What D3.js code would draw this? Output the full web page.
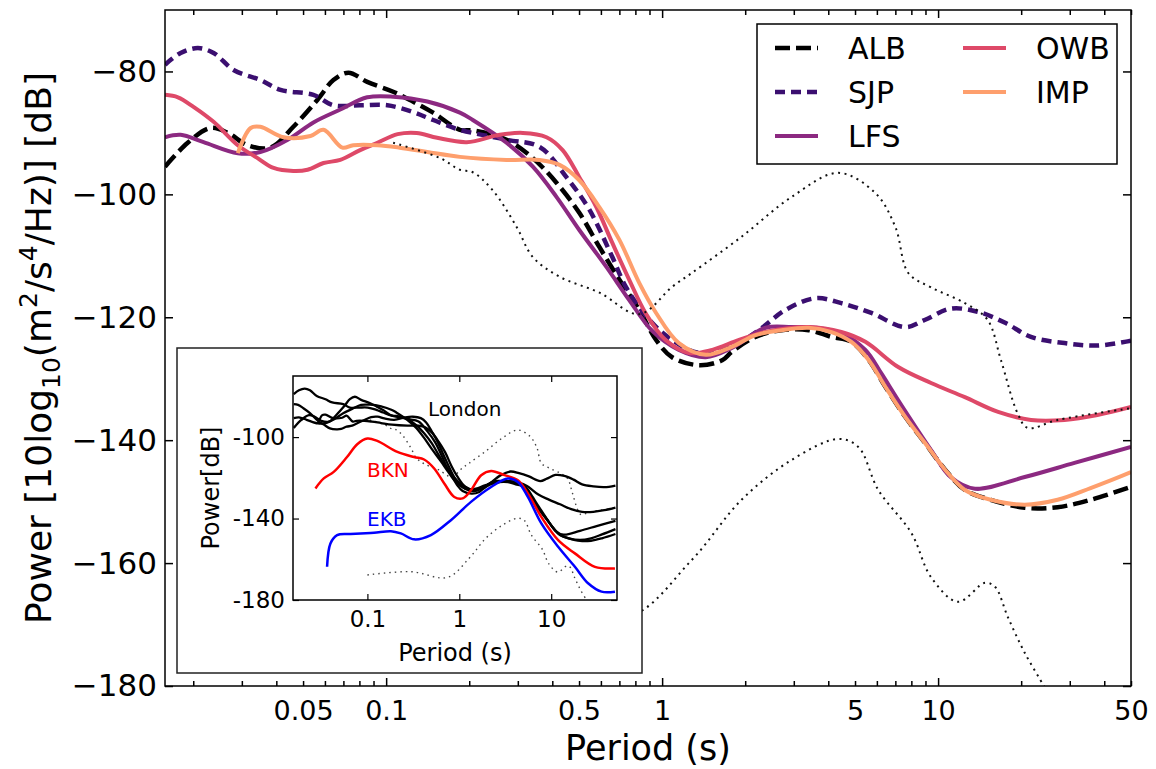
<!DOCTYPE html>
<html>
<head>
<meta charset="utf-8">
<script src="https://cdnjs.cloudflare.com/ajax/libs/d3/7.8.5/d3.min.js"></script>
<style>
    body { margin: 0; background: #fff; }
    svg text { font-family: "DejaVu Sans", sans-serif; }
</style>
</head>
<body>
<div id="chart"></div>
<script>
// PSD curves per station, [period (s), power (dB)]
const albData = [[0.0158,-95.5],[0.0191,-91.6],[0.0231,-89.2],[0.0267,-90.0],[0.0315,-92.0],[0.0381,-92.4],[0.0461,-89.0],[0.0564,-84.6],[0.0644,-81.4],[0.073,-80.2],[0.0854,-81.7],[0.106,-83.3],[0.125,-84.9],[0.148,-86.7],[0.185,-89.5],[0.206,-89.6],[0.273,-91.1],[0.34,-94.1],[0.414,-98.1],[0.501,-103.0],[0.593,-108.6],[0.70,-113.9],[0.826,-118.8],[0.951,-123.7],[1.087,-126.5],[1.36,-127.8],[1.65,-127.0],[1.79,-125.6],[2.18,-123.2],[2.71,-122.1],[3.40,-122.1],[4.11,-123.2],[4.85,-124.0],[5.59,-126.9],[6.44,-131.3],[7.6,-136.2],[8.98,-140.5],[10.6,-144.8],[12.5,-148.1],[15.5,-149.7],[20.6,-151.0],[27.1,-150.9],[35.7,-149.7],[50,-147.6]];
const sjpData = [[0.0158,-78.9],[0.018,-77.0],[0.0208,-76.2],[0.0237,-77.0],[0.0281,-79.8],[0.035,-81.4],[0.0414,-83.0],[0.0545,-83.8],[0.0644,-85.5],[0.0805,-85.5],[0.101,-85.5],[0.125,-86.6],[0.148,-87.9],[0.185,-89.5],[0.273,-91.1],[0.36,-92.3],[0.45,-97.2],[0.545,-102.5],[0.66,-110.2],[0.74,-115.1],[0.898,-120.4],[1.087,-123.7],[1.36,-125.8],[1.79,-124.8],[2.24,-122.1],[2.80,-118.8],[3.6,-116.9],[4.46,-117.7],[5.73,-119.3],[7.6,-121.6],[8.98,-120.4],[11.1,-118.6],[13.9,-119.1],[17.5,-120.9],[21.7,-123.2],[28.7,-124.2],[37.8,-124.6],[50,-123.8]];
const lfsData = [[0.0158,-90.7],[0.018,-90.3],[0.0218,-91.5],[0.029,-93.3],[0.035,-93.1],[0.044,-91.1],[0.0545,-88.3],[0.0682,-86.2],[0.0854,-84.2],[0.106,-84.1],[0.141,-84.9],[0.185,-86.7],[0.206,-87.9],[0.273,-91.6],[0.34,-95.5],[0.414,-100.4],[0.501,-105.8],[0.628,-111.8],[0.76,-117.2],[0.92,-122.2],[1.15,-125.3],[1.44,-126.5],[1.79,-125.0],[2.37,-121.7],[2.95,-121.6],[3.6,-121.7],[4.46,-122.6],[5.45,-125.3],[6.22,-129.1],[7.17,-133.5],[9.43,-141.6],[11.1,-146.0],[13.6,-147.9],[20.6,-146.0],[31.2,-143.7],[50,-141.1]];
const owbData = [[0.0158,-83.8],[0.0176,-84.2],[0.0201,-85.8],[0.0237,-88.2],[0.029,-92.0],[0.0342,-94.1],[0.0391,-95.7],[0.0461,-96.2],[0.0519,-96.0],[0.0593,-94.9],[0.0682,-94.4],[0.0805,-92.8],[0.0929,-91.6],[0.110,-90.2],[0.129,-90.0],[0.153,-90.8],[0.196,-91.5],[0.258,-90.3],[0.313,-90.0],[0.381,-90.7],[0.436,-92.8],[0.501,-97.2],[0.578,-102.1],[0.66,-107.9],[0.76,-113.9],[0.876,-119.5],[1.03,-123.7],[1.25,-125.8],[1.52,-125.3],[1.90,-123.7],[2.37,-122.4],[3.40,-121.6],[4.46,-122.4],[5.45,-124.0],[7.17,-128.1],[9.43,-130.7],[12.5,-133.0],[16.5,-135.4],[21.7,-136.7],[28.7,-136.7],[37.8,-135.9],[50,-134.6]];
const impData = [[0.029,-93.3],[0.0323,-89.2],[0.035,-89.0],[0.0425,-90.7],[0.0532,-90.5],[0.0593,-89.5],[0.0694,-92.4],[0.076,-92.0],[0.0929,-92.0],[0.112,-92.4],[0.141,-93.1],[0.185,-93.9],[0.273,-94.4],[0.36,-94.4],[0.425,-95.2],[0.501,-97.7],[0.593,-102.1],[0.70,-107.4],[0.826,-114.4],[0.951,-119.3],[1.15,-124.2],[1.44,-126.1],[1.79,-124.8],[2.18,-122.9],[2.71,-122.1],[3.40,-121.7],[4.11,-122.4],[4.85,-124.0],[5.59,-126.9],[6.44,-131.3],[7.6,-136.2],[8.98,-140.5],[10.6,-144.8],[12.5,-148.1],[15.5,-149.7],[20.6,-150.5],[27.1,-149.7],[35.7,-147.8],[50,-145.2]];

// noise model bounds (dotted)
const highNoiseData = [[0.106,-91.6],[0.157,-94.1],[0.185,-96.0],[0.206,-96.4],[0.243,-99.3],[0.297,-105.3],[0.34,-110.2],[0.425,-113.4],[0.593,-116.0],[0.826,-119.5],[1.09,-115.0],[1.28,-112.8],[1.94,-106.9],[2.95,-100.4],[4.35,-96.5],[5.93,-99.8],[7.0,-105.3],[7.8,-112.8],[9.4,-115.1],[12.5,-117.7],[15.1,-120.4],[16.9,-127.0],[19.4,-135.6],[21.1,-138.0],[27.1,-136.7],[50,-134.8]];
const lowNoiseData = [[0.1,-167.7],[0.30,-166.1],[0.745,-168.9],[1.28,-159.5],[1.94,-149.7],[2.95,-143.2],[4.35,-139.8],[5.14,-141.1],[6.07,-148.1],[8.0,-155.1],[9.43,-162.3],[11.8,-166.3],[14.8,-163.2],[16.1,-163.9],[17.9,-168.8],[20.6,-174.6],[24.3,-180.2],[25.5,-182.0]];

// inset comparison stations
const bknData = [[0.0272,-125.2],[0.0335,-120.3],[0.043,-117.1],[0.060,-109.8],[0.0775,-103.5],[0.1,-100.7],[0.128,-101.9],[0.212,-107.3],[0.322,-109.8],[0.414,-111.0],[0.533,-115.4],[0.686,-122.8],[0.882,-129.4],[1.087,-130.1],[1.34,-126.1],[1.73,-118.7],[2.22,-116.6],[3.1,-118.7],[4.34,-121.2],[5.57,-127.7],[7.81,-139.2],[11.9,-150.6],[18.1,-157.1],[29.9,-163.7],[49.4,-164.5]];
const ekbData = [[0.0364,-163.7],[0.0396,-152.2],[0.0468,-148.1],[0.0655,-147.6],[0.0843,-147.3],[0.118,-147.0],[0.18,-146.2],[0.231,-147.3],[0.322,-150.2],[0.491,-148.1],[0.81,-140.8],[1.34,-131.8],[2.22,-124.5],[3.37,-120.3],[4.34,-122.0],[5.57,-129.4],[7.81,-142.4],[11.9,-153.9],[18.1,-163.7],[25.2,-171.8],[35.3,-175.9],[49.4,-175.9]];

const stationNames = ["ALB", "SJP", "LFS", "OWB", "IMP"];
const mainXLabels = [0.05, 0.1, 0.5, 1, 5, 10, 50];
const mainYTicks = [-180, -160, -140, -120, -100, -80];
const insetXTicks = [0.1, 1, 10];
const insetYTicks = [-180, -140, -100];

class PsdVis {

    constructor(_parentElement) {
        this.parentElement = _parentElement;
        this.initVis();
    }

    initVis() {
        let vis = this;

        vis.width = 1156;
        vis.height = 769;
        vis.plot = {left: 165, top: 10, right: 1131, bottom: 686};

        vis.svg = d3.select("#" + vis.parentElement).append("svg")
            .attr("width", vis.width)
            .attr("height", vis.height);

        vis.xScale = d3.scaleLog().domain([0.0158, 50]).range([vis.plot.left, vis.plot.right]);
        vis.yScale = d3.scaleLinear().domain([-180, -70]).range([vis.plot.bottom, vis.plot.top]);

        vis.styles = [
            {color: "#000000", dash: "15,6", width: 4.5},
            {color: "#3b0f70", dash: "10,6", width: 4.5},
            {color: "#8c2981", dash: null, width: 4},
            {color: "#de4968", dash: null, width: 4},
            {color: "#fe9f6d", dash: null, width: 4}
        ];
        vis.stations = [albData, sjpData, lfsData, owbData, impData].map((d, i) => ({
            name: stationNames[i],
            values: d,
            ...vis.styles[i]
        }));

        vis.svg.append("clipPath").attr("id", "main-clip")
            .append("rect")
            .attr("x", vis.plot.left).attr("y", vis.plot.top)
            .attr("width", vis.plot.right - vis.plot.left)
            .attr("height", vis.plot.bottom - vis.plot.top);

        vis.updateVis();
    }

    updateVis() {
        let vis = this;
        let p = vis.plot;

        let line = d3.line()
            .x(d => vis.xScale(d[0]))
            .y(d => vis.yScale(d[1]))
            .curve(d3.curveCatmullRom.alpha(0.5));

        let curves = vis.svg.append("g").attr("clip-path", "url(#main-clip)");

        vis.stations.forEach(s => {
            curves.append("path")
                .datum(s.values)
                .attr("d", line)
                .attr("fill", "none")
                .attr("stroke", s.color)
                .attr("stroke-width", s.width)
                .attr("stroke-dasharray", s.dash);
        });

        // noise models
        [highNoiseData, lowNoiseData].forEach(d => {
            curves.append("path")
                .datum(d)
                .attr("d", line)
                .attr("fill", "none")
                .attr("stroke", "#111")
                .attr("stroke-width", 2)
                .attr("stroke-dasharray", "2,4.5");
        });

        // log ticks: decades and their multiples
        let xTicks = [];
        for (let e = -2; e <= 1; e++) {
            for (let m = 1; m <= 9; m++) {
                let v = +(m * Math.pow(10, e)).toPrecision(6);
                if (v >= 0.0158 && v <= 50) xTicks.push(v);
            }
        }
        let isMajor = d => Math.abs(Math.log10(d) - Math.round(Math.log10(d))) < 1e-6;
        let isLabelled = d => mainXLabels.some(l => Math.abs(l - d) < 1e-9);

        let xAxis = vis.svg.append("g")
            .attr("transform", "translate(0," + p.bottom + ")")
            .call(d3.axisBottom(vis.xScale).tickValues(xTicks).tickSize(-5).tickPadding(15)
                .tickFormat(d => isLabelled(d) ? d3.format("~g")(d) : ""));
        xAxis.selectAll(".tick line").attr("y2", d => isMajor(d) ? -8 : -5);

        let xTop = vis.svg.append("g")
            .attr("transform", "translate(0," + p.top + ")")
            .call(d3.axisTop(vis.xScale).tickValues(xTicks).tickSize(-5).tickFormat(""));
        xTop.selectAll(".tick line").attr("y2", d => isMajor(d) ? 8 : 5);

        let yAxis = vis.svg.append("g")
            .attr("transform", "translate(" + p.left + ",0)")
            .call(d3.axisLeft(vis.yScale).tickValues(mainYTicks).tickSize(-8).tickPadding(8)
                .tickFormat(d3.format("d")));

        let yRight = vis.svg.append("g")
            .attr("transform", "translate(" + p.right + ",0)")
            .call(d3.axisRight(vis.yScale).tickValues(mainYTicks).tickSize(-8).tickFormat(""));

        [xAxis, xTop, yAxis, yRight].forEach(g => {
            g.select(".domain").remove();
            g.attr("font-family", null).attr("font-size", 31);
            g.selectAll(".tick line").attr("stroke-width", 1.5);
        });
        xAxis.attr("font-size", 27);

        vis.svg.append("rect")
            .attr("x", p.left).attr("y", p.top)
            .attr("width", p.right - p.left).attr("height", p.bottom - p.top)
            .attr("fill", "none").attr("stroke", "#000").attr("stroke-width", 1.5);

        // axis titles
        vis.svg.append("text")
            .attr("x", (p.left + p.right) / 2)
            .attr("y", 760)
            .attr("text-anchor", "middle")
            .attr("font-size", 35)
            .text("Period (s)");

        let yTitle = vis.svg.append("text")
            .attr("transform", "translate(51," + (p.top + p.bottom) / 2 + ") rotate(-90)")
            .attr("text-anchor", "middle")
            .attr("font-size", 36);
        yTitle.append("tspan").text("Power [10log");
        yTitle.append("tspan").attr("font-size", 25).attr("dy", 9).text("10");
        yTitle.append("tspan").attr("dy", -9).text("(m");
        yTitle.append("tspan").attr("font-size", 25).attr("dy", -14).text("2");
        yTitle.append("tspan").attr("dy", 14).text("/s");
        yTitle.append("tspan").attr("font-size", 25).attr("dy", -14).text("4");
        yTitle.append("tspan").attr("dy", 14).text("/Hz)] [dB]");

        vis.drawLegend();
        vis.drawInset();
    }

    drawLegend() {
        let vis = this;
        let box = {x: 757, y: 24, w: 360, h: 140};

        let legend = vis.svg.append("g");
        legend.append("rect")
            .attr("x", box.x).attr("y", box.y)
            .attr("width", box.w).attr("height", box.h)
            .attr("fill", "#fff").attr("stroke", "#000").attr("stroke-width", 1.5);

        vis.stations.forEach((s, i) => {
            let col = Math.floor(i / 3);
            let row = i % 3;
            let x0 = box.x + 18 + col * 188;
            let y0 = box.y + 24 + row * 44;
            legend.append("line")
                .attr("x1", x0).attr("x2", x0 + 43)
                .attr("y1", y0).attr("y2", y0)
                .attr("stroke", s.color)
                .attr("stroke-width", s.width)
                .attr("stroke-dasharray", s.dash);
            legend.append("text")
                .attr("x", x0 + 73)
                .attr("y", y0)
                .attr("dy", "0.36em")
                .attr("font-size", 30)
                .text(s.name);
        });
    }

    drawInset() {
        let vis = this;
        let frame = {x: 177, y: 348, w: 465, h: 325};
        let ax = {left: 293, top: 376, right: 617, bottom: 600};

        let inset = vis.svg.append("g");
        inset.append("rect")
            .attr("x", frame.x).attr("y", frame.y)
            .attr("width", frame.w).attr("height", frame.h)
            .attr("fill", "#fff").attr("stroke", "#222").attr("stroke-width", 1.5);

        let x = d3.scaleLog().domain([0.0155, 52]).range([ax.left, ax.right]);
        let y = d3.scaleLinear().domain([-180, -70]).range([ax.bottom, ax.top]);

        inset.append("clipPath").attr("id", "inset-clip")
            .append("rect")
            .attr("x", ax.left).attr("y", ax.top)
            .attr("width", ax.right - ax.left).attr("height", ax.bottom - ax.top);

        let line = d3.line()
            .x(d => x(d[0]))
            .y(d => y(d[1]))
            .curve(d3.curveCatmullRom.alpha(0.5));

        let curves = inset.append("g").attr("clip-path", "url(#inset-clip)");

        [highNoiseData, lowNoiseData].forEach(d => {
            curves.append("path")
                .datum(d)
                .attr("d", line)
                .attr("fill", "none")
                .attr("stroke", "#444")
                .attr("stroke-width", 1.4)
                .attr("stroke-dasharray", "1.5,4");
        });

        vis.stations.forEach(s => {
            curves.append("path")
                .datum(s.values)
                .attr("d", line)
                .attr("fill", "none")
                .attr("stroke", "#000")
                .attr("stroke-width", 2.3);
        });

        [[bknData, "#ff0000"], [ekbData, "#0000ff"]].forEach(([d, c]) => {
            curves.append("path")
                .datum(d)
                .attr("d", line)
                .attr("fill", "none")
                .attr("stroke", c)
                .attr("stroke-width", 2.5);
        });

        let gx = inset.append("g")
            .attr("transform", "translate(0," + ax.bottom + ")")
            .call(d3.axisBottom(x).tickValues(insetXTicks).tickSize(-6).tickPadding(11)
                .tickFormat(d3.format("~g")));
        let gxTop = inset.append("g")
            .attr("transform", "translate(0," + ax.top + ")")
            .call(d3.axisTop(x).tickValues(insetXTicks).tickSize(-6).tickFormat(""));
        let gy = inset.append("g")
            .attr("transform", "translate(" + ax.left + ",0)")
            .call(d3.axisLeft(y).tickValues(insetYTicks).tickSize(-6).tickPadding(8)
                .tickFormat(d => String(d)));
        let gyRight = inset.append("g")
            .attr("transform", "translate(" + ax.right + ",0)")
            .call(d3.axisRight(y).tickValues(insetYTicks).tickSize(-6).tickFormat(""));

        [gx, gxTop, gy, gyRight].forEach(g => {
            g.select(".domain").remove();
            g.attr("font-family", null).attr("font-size", 23);
            g.selectAll(".tick line").attr("stroke-width", 1.2);
        });

        inset.append("rect")
            .attr("x", ax.left).attr("y", ax.top)
            .attr("width", ax.right - ax.left).attr("height", ax.bottom - ax.top)
            .attr("fill", "none").attr("stroke", "#000").attr("stroke-width", 1.5);

        inset.append("text")
            .attr("x", (ax.left + ax.right) / 2)
            .attr("y", 661)
            .attr("text-anchor", "middle")
            .attr("font-size", 24)
            .text("Period (s)");

        inset.append("text")
            .attr("transform", "translate(219," + (ax.top + ax.bottom) / 2 + ") rotate(-90)")
            .attr("text-anchor", "middle")
            .attr("font-size", 24)
            .text("Power[dB]");

        let notes = [
            {label: "London", x: 428, y: 416, color: "#000"},
            {label: "BKN", x: 367, y: 477, color: "#ff0000"},
            {label: "EKB", x: 367, y: 526, color: "#0000ff"}
        ];
        notes.forEach(n => {
            inset.append("text")
                .attr("x", n.x).attr("y", n.y)
                .attr("font-size", 20)
                .attr("fill", n.color)
                .text(n.label);
        });
    }
}

new PsdVis("chart");
</script>
</body>
</html>
